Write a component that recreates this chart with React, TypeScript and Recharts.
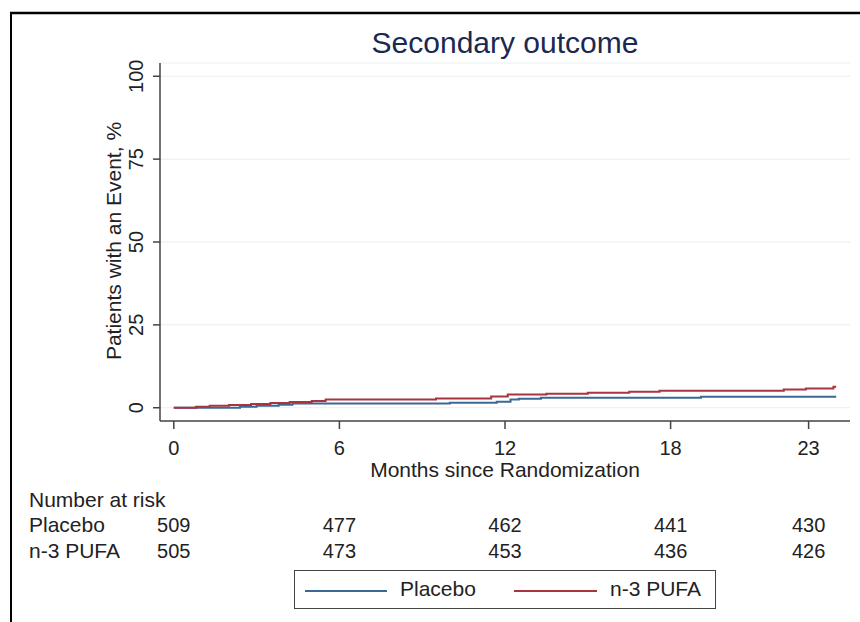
import { LineChart, Line, XAxis, YAxis, CartesianGrid, Legend } from "recharts";

// Kaplan-Meier style cumulative event curves (% of patients)
const placeboMonths = [0, 2.4, 3.0, 3.8, 4.3, 10.0, 11.7, 12.2, 12.5, 13.3, 19.1, 24.0];
const placeboPct = [0, 0.3, 0.6, 0.9, 1.3, 1.5, 1.8, 2.5, 2.7, 3.0, 3.3, 3.3];

const pufaMonths = [0, 0.8, 1.3, 2.0, 2.8, 3.5, 4.2, 5.0, 5.5, 9.5, 11.5, 12.1, 13.5, 15.0, 16.5, 17.6, 22.1, 22.9, 23.9, 24.0];
const pufaPct = [0, 0.3, 0.6, 0.8, 1.1, 1.4, 1.7, 2.0, 2.5, 2.8, 3.4, 4.0, 4.2, 4.5, 4.8, 5.1, 5.5, 5.8, 6.3, 6.3];

const xTicks = [0, 6, 12, 18, 23];
const yTicks = [0, 25, 50, 75, 100];

// number at risk table
const riskTimes = [0, 6, 12, 18, 23];
const placeboRisk = [509, 477, 462, 441, 430];
const pufaRisk = [505, 473, 453, 436, 426];

const placeboData = placeboMonths.map((m, i) => ({ month: m, pct: placeboPct[i] }));
const pufaData = pufaMonths.map((m, i) => ({ month: m, pct: pufaPct[i] }));

const FONT = "'Liberation Sans', Arial, sans-serif";
const TEXT = "#222";
const BLUE = "#3b6894";
const RED = "#a8343f";

const YTick = (p: any) => {
  const x = p.x - 8;
  return (
    <text x={x} y={p.y} transform={`rotate(-90 ${x} ${p.y})`} textAnchor="middle" fontSize={20} fill={TEXT} fontFamily={FONT}>
      {p.payload.value}
    </text>
  );
};

const XTick = (p: any) => (
  <text x={p.x} y={p.y + 24} textAnchor="middle" fontSize={20} fill={TEXT} fontFamily={FONT}>
    {p.payload.value}
  </text>
);

const riskTick = (counts: number[], dy: number) => (p: any) => {
  let i = riskTimes.indexOf(Number(p.payload?.value));
  if (i < 0) i = p.index;
  return (
    <text x={p.x} y={p.y + dy} textAnchor="middle" fontSize={20} fill={TEXT} fontFamily={FONT}>
      {counts[i]}
    </text>
  );
};

const LegendBox = () => (
  <div
    style={{
      width: 422,
      height: 39,
      border: "1.5px solid #444",
      boxSizing: "border-box",
      fontFamily: FONT,
      fontSize: 21,
      color: TEXT,
      position: "relative",
      background: "#fff",
    }}
  >
    <div style={{ position: "absolute", left: 10, top: 19, width: 82, height: 2, background: BLUE }} />
    <span style={{ position: "absolute", left: 105, top: 6, lineHeight: "24px" }}>Placebo</span>
    <div style={{ position: "absolute", left: 219, top: 19, width: 83, height: 2, background: RED }} />
    <span style={{ position: "absolute", left: 315, top: 6, lineHeight: "24px" }}>n-3 PUFA</span>
  </div>
);

export default function App() {
  return (
    <div style={{ position: "absolute", left: 0, top: 0, width: 860, height: 622, background: "#fff" }}>
      <svg width={860} height={622} style={{ position: "absolute", left: 0, top: 0 }}>
        <line x1={10} y1={13} x2={860} y2={13} stroke="#000" strokeWidth={2.5} />
        <line x1={11} y1={12} x2={11} y2={622} stroke="#000" strokeWidth={2} />
        <text x={505} y={53} textAnchor="middle" fontSize={30} fill="#1a2852" fontFamily={FONT}>
          Secondary outcome
        </text>
      </svg>
      <div style={{ position: "absolute", left: 0, top: 0 }}>
        <LineChart width={860} height={622} margin={{ top: 63, right: 10, left: 0, bottom: 63 }}>
          <CartesianGrid vertical={false} stroke="#e9eeef" strokeWidth={1} />
          <XAxis
            xAxisId="main"
            dataKey="month"
            type="number"
            domain={[-0.5, 24.5]}
            ticks={xTicks}
            allowDataOverflow
            height={62}
            tickSize={8}
            tickMargin={2}
            stroke="#444"
            strokeWidth={1.5}
            tick={XTick}
            label={(p: any) => (
              <text x={505} y={p.viewBox.y + 56} textAnchor="middle" fontSize={21} fill={TEXT} fontFamily={FONT}>
                Months since Randomization
              </text>
            )}
          />
          <XAxis
            xAxisId="placeboRisk"
            dataKey="month"
            type="number"
            domain={[-0.5, 24.5]}
            ticks={riskTimes}
            allowDataOverflow
            height={50}
            axisLine={false}
            tickLine={false}
            tickSize={0}
            tickMargin={0}
            tick={riskTick(placeboRisk, 49)}
            label={(p: any) => (
              <g>
                <text x={29} y={p.viewBox.y + 24} fontSize={21} fill={TEXT} fontFamily={FONT}>
                  Number at risk
                </text>
                <text x={29} y={p.viewBox.y + 49} fontSize={21} fill={TEXT} fontFamily={FONT}>
                  Placebo
                </text>
              </g>
            )}
          />
          <XAxis
            xAxisId="pufaRisk"
            dataKey="month"
            type="number"
            domain={[-0.5, 24.5]}
            ticks={riskTimes}
            allowDataOverflow
            height={26}
            axisLine={false}
            tickLine={false}
            tickSize={0}
            tickMargin={0}
            tick={riskTick(pufaRisk, 25)}
            label={(p: any) => (
              <text x={29} y={p.viewBox.y + 25} fontSize={21} fill={TEXT} fontFamily={FONT}>
                n-3 PUFA
              </text>
            )}
          />
          <YAxis
            type="number"
            domain={[-4, 104]}
            ticks={yTicks}
            allowDataOverflow
            width={160}
            tickSize={7}
            tickMargin={2}
            stroke="#444"
            strokeWidth={1.5}
            tick={YTick}
            label={() => (
              <text
                x={121}
                y={241}
                transform="rotate(-90 121 241)"
                textAnchor="middle"
                fontSize={21}
                fill={TEXT}
                fontFamily={FONT}
              >
                Patients with an Event, %
              </text>
            )}
          />
          {/* invisible series so the risk-table axes get a scale */}
          <Line
            xAxisId="placeboRisk"
            data={placeboData}
            dataKey="pct"
            stroke="none"
            dot={false}
            legendType="none"
            isAnimationActive={false}
          />
          <Line
            xAxisId="pufaRisk"
            data={pufaData}
            dataKey="pct"
            stroke="none"
            dot={false}
            legendType="none"
            isAnimationActive={false}
          />
          <Line
            xAxisId="main"
            data={placeboData}
            dataKey="pct"
            name="Placebo"
            type="stepAfter"
            stroke={BLUE}
            strokeWidth={2}
            dot={false}
            isAnimationActive={false}
          />
          <Line
            xAxisId="main"
            data={pufaData}
            dataKey="pct"
            name="n-3 PUFA"
            type="stepAfter"
            stroke={RED}
            strokeWidth={2}
            dot={false}
            isAnimationActive={false}
          />
          <Legend
            layout="vertical"
            align="center"
            verticalAlign="middle"
            content={LegendBox}
            wrapperStyle={{ left: 294, top: 570, width: 422, height: 39 }}
          />
        </LineChart>
      </div>
    </div>
  );
}
